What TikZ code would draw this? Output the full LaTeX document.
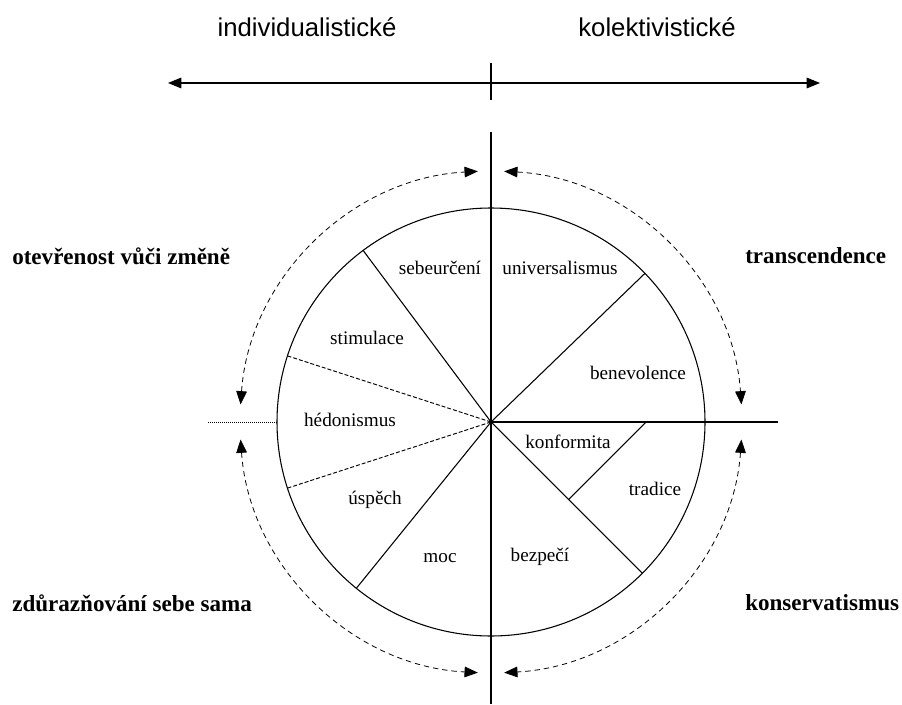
\documentclass[tikz,border=0pt]{standalone}
\usepackage{fontspec}
\setmainfont{Liberation Serif}
\newfontfamily\arialfont{Liberation Sans}
\usetikzlibrary{arrows.meta,calc}

\tikzset{
  sector/.style={font=\fontsize{14.4}{17}\selectfont,inner sep=0pt},
  region/.style={font=\fontsize{17.3}{20}\selectfont\bfseries,inner sep=0pt,anchor=west},
  pole/.style={font=\arialfont\fontsize{19.3}{22}\selectfont,inner sep=0pt},
  spoke/.style={line width=0.8pt},
  spokedash/.style={line width=0.7pt,dash pattern=on 3pt off 1.5pt},
  swing/.style={line width=0.6pt,dash pattern=on 4pt off 3pt,{Triangle[length=10pt,width=8pt]}-{Triangle[length=10pt,width=8pt]}},
}

\begin{document}
\begin{tikzpicture}[x=0.75pt,y=0.75pt]
\useasboundingbox (0,0) rectangle (902,704);
\coordinate (c) at (491,282);
% axis at the top
\node[pole] (indiv) at (307,677) {individualistické};
\node[pole] (kolek) at (657,677) {kolektivistické};
\coordinate (west) at (168,621);
\coordinate (east) at (820,621);
\coordinate (ticktop) at (491,641);
\coordinate (tickbot) at (491,604);
\draw[line width=0.8pt,{Triangle[length=10pt,width=8pt]}-{Triangle[length=10pt,width=8pt]}] (west) -- (east);
\draw[line width=0.8pt] (ticktop) -- (tickbot);
% circle and axes
\coordinate (vtop) at (491,572);
\coordinate (vbot) at (491,0);
\coordinate (hright) at (778,282);
\coordinate (hleft) at (208,282);
\coordinate (hcirc) at ($(c)+(180:214)$);
\draw[spoke] (c) circle (214);
\draw[spoke] (vtop) -- (vbot);
\draw[spoke] (c) -- (hright);
\draw[line width=0.7pt,dash pattern=on 1pt off 0.5pt] (hleft) -- (hcirc);
\foreach \a/\n in {126.7/s1,231/s2,44/s3,-45/s4}
  \coordinate (\n) at ($(c)+(\a:214)$);
\foreach \a/\n in {162/d1,198/d2}
  \coordinate (\n) at ($(c)+(\a:214)$);
\foreach \n in {s1,s2,s3,s4}
  \draw[spoke] (c) -- (\n);
\foreach \n in {d1,d2}
  \draw[spokedash] (c) -- (\n);
\coordinate (k1) at ($(c)+(155,0)$);
\coordinate (k2) at ($(c)+(77.5,-77.5)$);
\draw[spoke] (k1) -- (k2);
% sectors
\node[sector] (sebe) at (440,436) {sebeurčení};
\node[sector] (univ) at (560,436) {universalismus};
\node[sector] (stim) at (367,366) {stimulace};
\node[sector] (bene) at (638,331) {benevolence};
\node[sector] (hedo) at (350,284) {hédonismus};
\node[sector] (uspe) at (375,204) {úspěch};
\node[sector] (moc) at (440,146) {moc};
\node[sector] (konf) at (568,262) {konformita};
\node[sector] (trad) at (655,215) {tradice};
\node[sector] (bezp) at (540,147) {bezpečí};
% dashed arcs
\draw[swing] ($(c)+(176:251)$) arc (176:93:251);
\draw[swing] ($(c)+(87:251)$) arc (87:4:251);
\draw[swing] ($(c)+(184:251)$) arc (184:267:251);
\draw[swing] ($(c)+(-4:251)$) arc (-4:-87:251);
% dimensions
\node[region] (open) at (12,448) {otevřenost vůči změně};
\node[region] (tran) at (745,448) {transcendence};
\node[region] (self) at (12,101) {zdůrazňování sebe sama};
\node[region] (kons) at (745,101) {konservatismus};
\end{tikzpicture}
\end{document}
